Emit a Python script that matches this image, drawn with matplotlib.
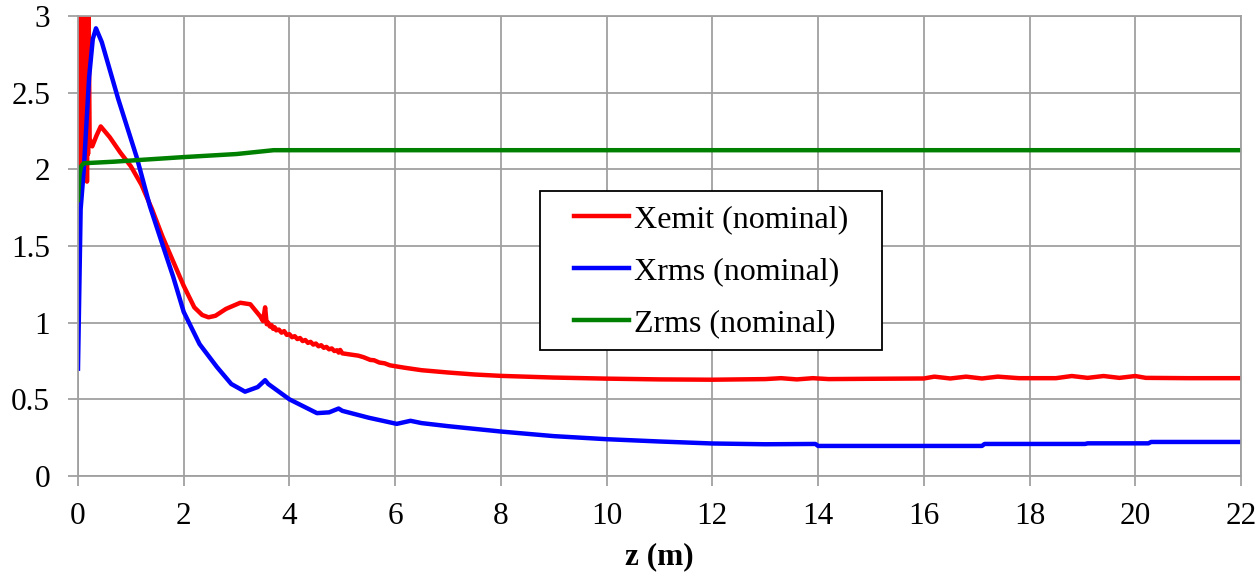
import numpy as np
import matplotlib
matplotlib.use("Agg")
import matplotlib.pyplot as plt
from matplotlib.patches import Rectangle

# Xemit (nominal) - red; fast oscillation at the start (clipped at 3)
xemit_z = [0.0, 0.01, 0.02, 0.03, 0.04, 0.05, 0.06, 0.07, 0.08, 0.09, 0.10, 0.11,
           0.12, 0.13, 0.14, 0.15, 0.16, 0.17, 0.18, 0.19, 0.20, 0.22, 0.27, 0.35,
           0.43, 0.6, 0.8, 1.0, 1.2, 1.4, 1.6, 1.8, 2.0, 2.2, 2.35, 2.47, 2.6, 2.8,
           3.07, 3.26, 3.45, 3.5, 3.54, 3.57, 3.6, 3.63, 3.66, 3.69, 3.72, 3.75, 3.8,
           3.85, 3.9, 3.95, 4.0, 4.05, 4.1, 4.15, 4.2, 4.25, 4.3, 4.35, 4.4, 4.45,
           4.5, 4.55, 4.6, 4.65, 4.7, 4.75, 4.8, 4.85, 4.9, 4.93, 4.96, 5.0, 5.1,
           5.2, 5.3, 5.4, 5.53, 5.6, 5.7, 5.8, 5.9, 6.0, 6.2, 6.5, 7.0, 7.5, 8.0,
           9.0, 10.0, 11.0, 12.0, 13.0, 13.3, 13.6, 13.9, 14.2, 15.0, 16.0, 16.2,
           16.5, 16.8, 17.1, 17.4, 17.8, 18.5, 18.8, 19.1, 19.4, 19.7, 20.0, 20.2,
           21.0, 22.0]
xemit_v = [2.67, 2.0, 3.3, 2.0, 3.3, 2.1, 3.3, 1.95, 3.4, 2.2, 3.4, 2.0, 3.4,
           2.3, 3.4, 2.0, 3.3, 1.92, 3.2, 2.1, 3.1, 2.2, 2.15, 2.22,
           2.28, 2.21, 2.11, 2.02, 1.90, 1.74, 1.56, 1.40, 1.24, 1.10, 1.05, 1.035, 1.045, 1.09,
           1.13, 1.12, 1.04, 1.01, 1.10, 0.99, 1.00, 0.975, 0.985, 0.96, 0.97, 0.95, 0.955,
           0.935, 0.945, 0.92, 0.925, 0.905, 0.912, 0.893, 0.90, 0.88, 0.887, 0.868, 0.875, 0.857,
           0.864, 0.846, 0.853, 0.836, 0.842, 0.826, 0.832, 0.815, 0.82, 0.805, 0.822, 0.80, 0.795,
           0.79, 0.785, 0.775, 0.757, 0.755, 0.74, 0.735, 0.722, 0.716, 0.705, 0.69, 0.675, 0.662, 0.653,
           0.642, 0.635, 0.63, 0.628, 0.632, 0.638, 0.63, 0.638, 0.632, 0.634, 0.636, 0.648,
           0.636, 0.648, 0.636, 0.648, 0.638, 0.638, 0.652, 0.64, 0.652, 0.64, 0.652, 0.64,
           0.638, 0.638]

# Xrms (nominal) - blue
xrms_z = [0.0, 0.05, 0.11, 0.21, 0.28, 0.34, 0.45, 0.76, 1.11, 1.36, 1.55, 1.8,
          2.0, 2.3, 2.63, 2.9, 3.16, 3.4, 3.54, 3.6, 4.0, 4.52, 4.75, 4.93, 5.0,
          5.5, 6.03, 6.29, 6.5, 7.0, 8.0, 9.0, 10.0, 11.0, 12.0, 13.0, 13.95, 14.0,
          17.1, 17.15, 19.05, 19.1, 20.25, 20.3, 22.0]
xrms_v = [0.7, 1.74, 2.0, 2.6, 2.85, 2.92, 2.83, 2.46, 2.08, 1.76, 1.56, 1.30,
          1.07, 0.86, 0.71, 0.60, 0.55, 0.58, 0.625, 0.60, 0.50, 0.41, 0.415, 0.44, 0.425,
          0.38, 0.34, 0.36, 0.345, 0.325, 0.29, 0.26, 0.24, 0.225, 0.212, 0.207, 0.209, 0.196,
          0.196, 0.209, 0.209, 0.213, 0.213, 0.222, 0.222]

# Zrms (nominal) - green
zrms_z = [0.0, 0.03, 0.06, 0.11, 0.68, 1.11, 2.0, 3.0, 3.7, 6.0, 10.0, 15.0, 22.0]
zrms_v = [1.80, 1.97, 2.02, 2.04, 2.05, 2.06, 2.08, 2.10, 2.125, 2.125, 2.125, 2.125, 2.125]

x_ticks = np.arange(0, 23, 2)
y_ticks = [0, 0.5, 1, 1.5, 2, 2.5, 3]
y_labels = ["0", "0.5", "1", "1.5", "2", "2.5", "3"]

plt.rcParams['font.family'] = ['Liberation Serif', 'DejaVu Serif']

fig = plt.figure(figsize=(12.6, 5.73), dpi=100)
ax = fig.add_axes([0.0619, 0.1693, 0.923, 0.8027])

lw = 3.2
ax.plot(xemit_z, xemit_v, color='#FF0000', lw=lw, label='Xemit (nominal)')
ax.plot(xrms_z, xrms_v, color='#0000FF', lw=lw, label='Xrms (nominal)')
ax.plot(zrms_z, zrms_v, color='#008000', lw=lw, label='Zrms (nominal)')

ax.set_xlim(0, 22)
ax.set_ylim(0, 3)
ax.set_xticks(x_ticks)
ax.set_yticks(y_ticks)
ax.set_yticklabels(y_labels)
ax.grid(True, color='#A0A0A0', lw=1.3)
ax.set_axisbelow(True)
for s in ax.spines.values():
    s.set_color('#A0A0A0')
    s.set_linewidth(1.3)
ax.tick_params(direction='out', length=7, width=1.3, color='#A0A0A0',
               labelsize=22.5, pad=12)
ax.tick_params(axis='y', pad=13)
ax.set_xlabel('z (m)', fontsize=22.5, fontweight='bold', labelpad=8)

# legend box drawn separately (wide side padding like the original)
ax.add_patch(Rectangle((0.3972, 0.274), 0.2941, 0.3457, transform=ax.transAxes,
                       facecolor='white', edgecolor='black', lw=1.3, zorder=5))
leg = ax.legend(loc='upper left', bbox_to_anchor=(0.4265, 0.589), fontsize=23,
                frameon=False, handlelength=1.72, labelspacing=0.71, borderpad=0,
                handletextpad=0.15, borderaxespad=0)
leg.set_zorder(6)

fig.savefig('out.png', dpi=100)
